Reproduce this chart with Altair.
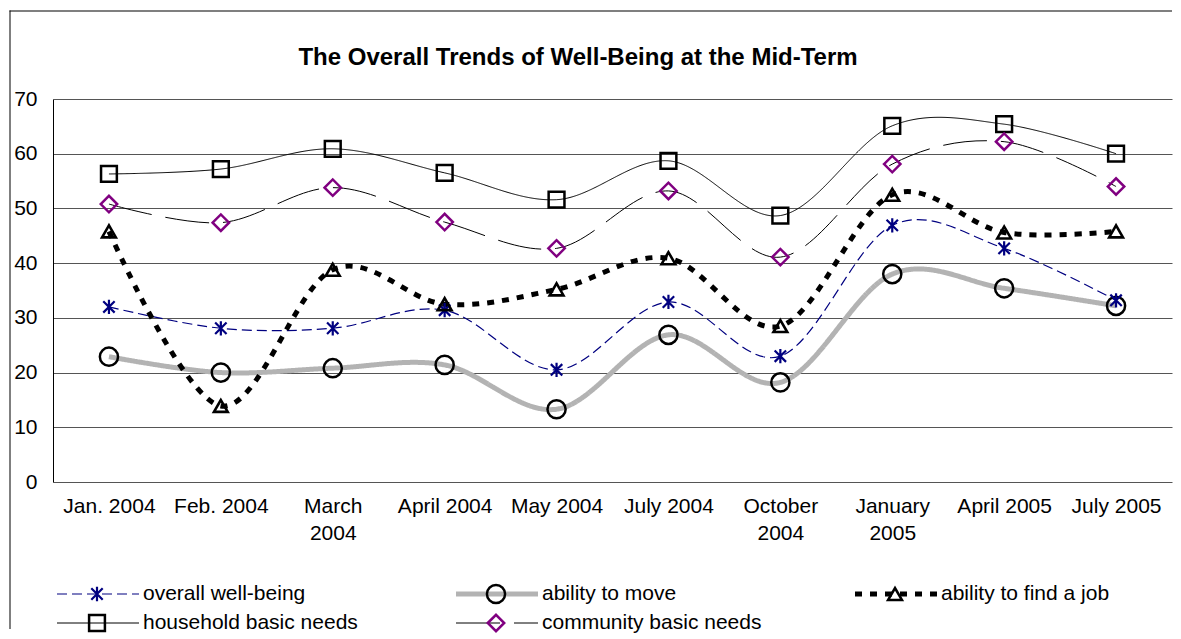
import altair as alt
import pandas as pd

# ---------------- data ----------------
categories = ["Jan. 2004", "Feb. 2004", "March 2004", "April 2004", "May 2004",
              "July 2004", "October 2004", "January 2005", "April 2005", "July 2005"]
overall_wellbeing = [32.0, 28.1, 28.1, 31.4, 20.5, 32.9, 23.0, 46.9, 42.7, 33.2]
ability_to_move = [22.9, 20.0, 20.8, 21.4, 13.3, 26.9, 18.2, 38.0, 35.4, 32.2]
ability_to_find_job = [45.8, 13.9, 38.8, 32.5, 35.2, 40.9, 28.5, 52.5, 45.6, 45.8]
household_needs = [56.3, 57.2, 60.9, 56.5, 51.6, 58.7, 48.7, 65.1, 65.4, 60.0]
community_needs = [50.8, 47.4, 53.8, 47.5, 42.7, 53.2, 41.1, 58.1, 62.2, 54.0]
series_names = ["overall well-being", "ability to move", "ability to find a job",
                "household basic needs", "community basic needs"]
y_ticks = [0, 10, 20, 30, 40, 50, 60, 70]
title_text = "The Overall Trends of Well-Being at the Mid-Term"
legend_cols = [0, 1, 2, 0, 1]
legend_rows = [0, 0, 0, 1, 1]

series_values = [overall_wellbeing, ability_to_move, ability_to_find_job,
                 household_needs, community_needs]
rows = []
for name, vals in zip(series_names, series_values):
    for c, v in zip(categories, vals):
        rows.append({"series": name, "cat": c, "value": v})
df = pd.DataFrame(rows)

# ---------------- styles ----------------
FONT = "Liberation Sans"
STAR = "M-1,-1L1,1M-1,1L1,-1M0,-1.25L0,1.25"
styles = {
    "overall well-being": dict(line="#000080", width=1.2, dash=[10, 5], shape=STAR,
                               mcolor="#000080", size=130, mwidth=2.2),
    "ability to move": dict(line="#b3b3b3", width=5, dash=[1, 0], shape="circle",
                            mcolor="#000000", size=330, mwidth=2.5),
    "ability to find a job": dict(line="#000000", width=5, dash=[7, 8], shape="triangle-up",
                                  mcolor="#000000", size=190, mwidth=2.6),
    "household basic needs": dict(line="#000000", width=1, dash=[1, 0], shape="square",
                                  mcolor="#000000", size=250, mwidth=2.5),
    "community basic needs": dict(line="#000000", width=1, dash=[44, 14], shape="diamond",
                                  mcolor="#800080", size=270, mwidth=2.5),
}
draw_order = ["ability to move", "overall well-being", "ability to find a job",
              "household basic needs", "community basic needs"]

W = 1119
H = 383

x_enc = alt.X("cat:N", sort=categories,
              scale=alt.Scale(type="point", padding=0.5),
              axis=alt.Axis(title=None, domain=False, ticks=False, grid=False,
                            labelAngle=0, labelPadding=13, labelFontSize=21,
                            labelFont=FONT, labelColor="black", labelBaseline="top",
                            labelLineHeight=27,
                            labelExpr="indexof(['March 2004','October 2004','January 2005'], datum.label) >= 0 ? split(datum.label, ' ') : datum.label"))
y_enc = alt.Y("value:Q", scale=alt.Scale(domain=[0, 70], nice=False, zero=True),
              axis=alt.Axis(title=None, values=y_ticks, grid=True, gridColor="#555555",
                            gridWidth=1, domain=True, domainColor="black", ticks=False,
                            labelPadding=16, labelFontSize=21, labelFont=FONT,
                            labelColor="black"))

base = alt.Chart(df)
layers = []
for name in draw_order:
    s = styles[name]
    layers.append(
        base.transform_filter(alt.datum.series == name)
        .mark_line(interpolate="cardinal", color=s["line"], strokeWidth=s["width"],
                   strokeDash=s["dash"])
        .encode(x=x_enc, y=y_enc)
    )
for name in draw_order:
    s = styles[name]
    layers.append(
        base.transform_filter(alt.datum.series == name)
        .mark_point(shape=s["shape"], filled=False, color=s["mcolor"], size=s["size"],
                    strokeWidth=s["mwidth"], opacity=1)
        .encode(x=x_enc, y=y_enc)
    )

one = pd.DataFrame({"t": [title_text]})
title_mark = alt.Chart(one).mark_text(fontSize=24, fontWeight="bold", font=FONT,
                                      color="black", align="center", baseline="middle").encode(
    x=alt.value(525), y=alt.value(-41), text="t:N")
# chart-area frame (left and top edges; right/bottom fall outside the picture)
frame_left = alt.Chart(one).mark_rect(color="black").encode(
    x=alt.value(-43.5), x2=alt.value(-42.5), y=alt.value(-88.5), y2=alt.value(530))
frame_top_a = alt.Chart(one).mark_rect(color="black").encode(
    x=alt.value(-43.5), x2=alt.value(560), y=alt.value(-88.5), y2=alt.value(-87.5))
frame_top_b = alt.Chart(one).mark_rect(color="black").encode(
    x=alt.value(560), x2=alt.value(1119), y=alt.value(-88.5), y2=alt.value(-87.5))

main = alt.layer(frame_left, frame_top_a, frame_top_b, title_mark, *layers).properties(
    width=W, height=H)

# ---------------- legend panel ----------------
LH = 52
COL_W = 399
leg_rows = []
for name, c, r in zip(series_names, legend_cols, legend_rows):
    x0 = 4 + c * COL_W
    leg_rows.append({"series": name, "x0": x0, "x1": x0 + 82, "xm": x0 + 40,
                     "xt": x0 + 86, "y": 16 + r * 29})
ldf = pd.DataFrame(leg_rows)
lx = alt.Scale(domain=[0, W], nice=False, zero=False)
ly = alt.Scale(domain=[0, LH], nice=False, zero=False, reverse=True)
lbase = alt.Chart(ldf)
leg_layers = []
for name in series_names:
    s = styles[name]
    leg_layers.append(
        lbase.transform_filter(alt.datum.series == name)
        .mark_rule(color=s["line"], strokeWidth=s["width"], strokeDash=s["dash"])
        .encode(x=alt.X("x0:Q", scale=lx, axis=None), x2="x1:Q",
                y=alt.Y("y:Q", scale=ly, axis=None))
    )
for name in series_names:
    s = styles[name]
    leg_layers.append(
        lbase.transform_filter(alt.datum.series == name)
        .mark_point(shape=s["shape"], filled=False, color=s["mcolor"], size=s["size"],
                    strokeWidth=s["mwidth"], opacity=1)
        .encode(x=alt.X("xm:Q", scale=lx, axis=None), y=alt.Y("y:Q", scale=ly, axis=None))
    )
leg_layers.append(
    lbase.mark_text(align="left", baseline="middle", fontSize=21, font=FONT, color="black")
    .encode(x=alt.X("xt:Q", scale=lx, axis=None), y=alt.Y("y:Q", scale=ly, axis=None),
            text="series:N")
)
legend = alt.layer(*leg_layers).properties(width=W, height=LH)

chart = alt.vconcat(main, legend, spacing=96, bounds="flush").configure(
    padding={"left": 1, "top": 2, "right": 0, "bottom": 0}
).configure_view(stroke="transparent")

chart.save("out.html", embed_options={"renderer": "svg", "actions": False})
